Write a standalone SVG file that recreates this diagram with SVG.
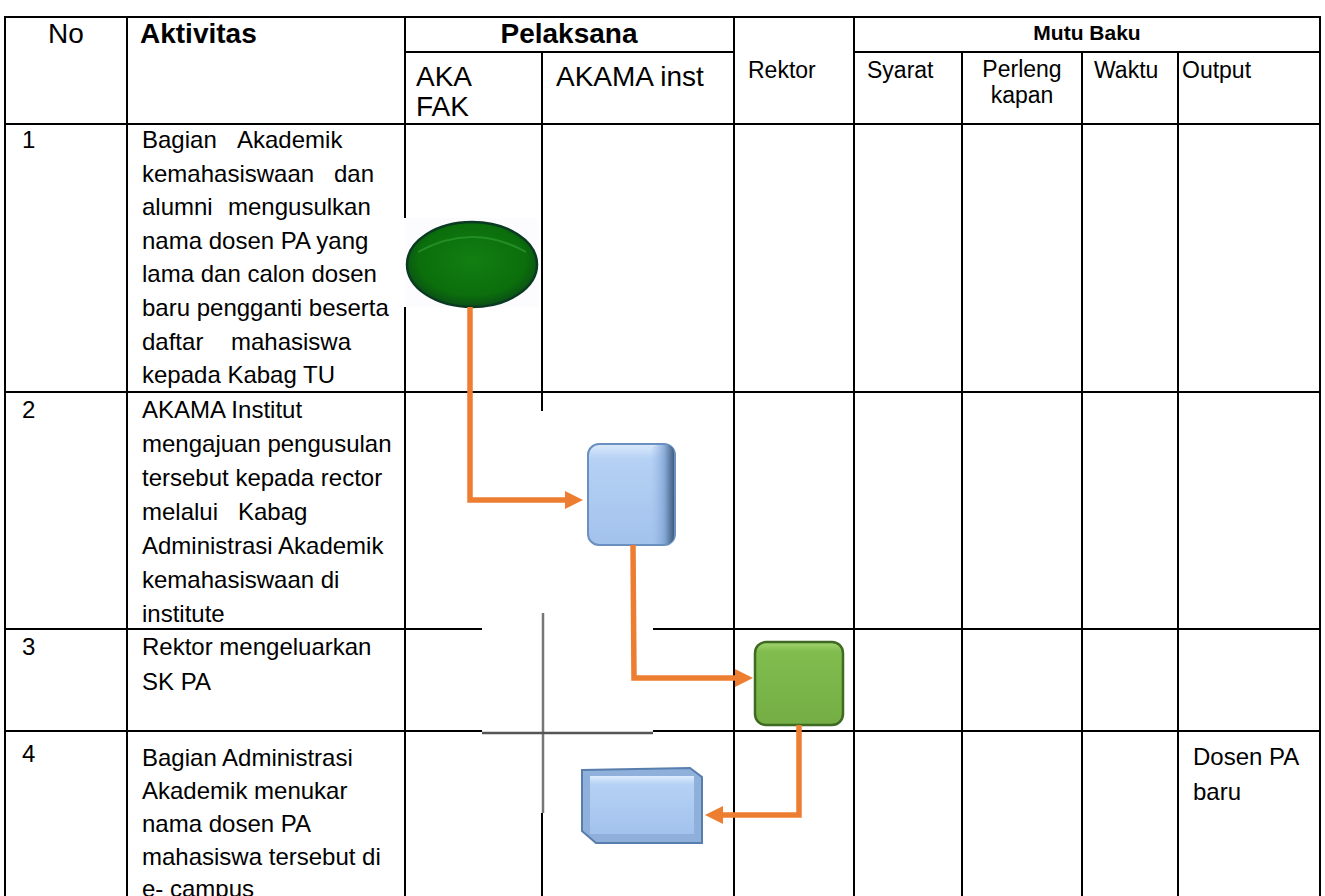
<svg xmlns="http://www.w3.org/2000/svg" width="1325" height="896" viewBox="0 0 1325 896">
<style>
.g{stroke:#000;stroke-width:2;fill:none}
.t{font-family:"Liberation Sans",Arial,sans-serif;font-size:24px;fill:#000}
.h{font-family:"Liberation Sans",Arial,sans-serif;font-size:28px;fill:#000}
.hb{font-family:"Liberation Sans",Arial,sans-serif;font-size:28px;font-weight:bold;fill:#000}
.s{font-family:"Liberation Sans",Arial,sans-serif;font-size:23px;fill:#000}
.c{stroke:#ED7D31;stroke-width:5.5;fill:none;stroke-linejoin:miter}
</style>
<defs>
<marker id="ah" markerUnits="userSpaceOnUse" markerWidth="18" markerHeight="18" refX="0" refY="9" orient="auto">
<path d="M0,0 L18,9 L0,18 z" fill="#ED7D31"/>
</marker>
<radialGradient id="eg" cx="0.5" cy="0.45" r="0.55">
<stop offset="0" stop-color="#127F12"/>
<stop offset="0.75" stop-color="#0B6F0B"/>
<stop offset="1" stop-color="#0A4F16"/>
</radialGradient>
<linearGradient id="bg" x1="0" y1="0" x2="0" y2="1">
<stop offset="0" stop-color="#DCEAFB"/>
<stop offset="0.15" stop-color="#B5D1F4"/>
<stop offset="1" stop-color="#A3C2EC"/>
</linearGradient>
<linearGradient id="br" x1="0" y1="0" x2="1" y2="0">
<stop offset="0" stop-color="#9FBFEA" stop-opacity="0"/>
<stop offset="0.6" stop-color="#7FA3D2"/>
<stop offset="1" stop-color="#2E4A6B"/>
</linearGradient>
<linearGradient id="gg" x1="0" y1="0" x2="0" y2="1">
<stop offset="0" stop-color="#A2D56F"/>
<stop offset="0.12" stop-color="#80BC4E"/>
<stop offset="1" stop-color="#74AE44"/>
</linearGradient>
</defs>

<g id="grid">
<line class="g" x1="5" y1="17" x2="1320" y2="17"/>
<line class="g" x1="405" y1="52" x2="734" y2="52"/>
<line class="g" x1="854" y1="52" x2="1320" y2="52"/>
<line class="g" x1="5" y1="124" x2="1320" y2="124"/>
<line class="g" x1="5" y1="392" x2="1320" y2="392"/>
<line class="g" x1="5" y1="629" x2="482" y2="629"/>
<line class="g" x1="653" y1="629" x2="1320" y2="629"/>
<line class="g" x1="5" y1="731" x2="482" y2="731"/>
<line class="g" x1="653" y1="731" x2="1320" y2="731"/>
<line class="g" x1="5" y1="16" x2="5" y2="896"/>
<line class="g" x1="127" y1="16" x2="127" y2="896"/>
<line class="g" x1="405" y1="16" x2="405" y2="218"/>
<line class="g" x1="405" y1="307" x2="405" y2="896"/>
<line class="g" x1="542" y1="52" x2="542" y2="411"/>
<line class="g" x1="542" y1="813" x2="542" y2="896"/>
<line class="g" x1="734" y1="16" x2="734" y2="896"/>
<line class="g" x1="854" y1="16" x2="854" y2="896"/>
<line class="g" x1="962" y1="52" x2="962" y2="896"/>
<line class="g" x1="1082" y1="52" x2="1082" y2="896"/>
<line class="g" x1="1178" y1="52" x2="1178" y2="896"/>
<line class="g" x1="1320" y1="16" x2="1320" y2="896"/>
<line x1="543" y1="613" x2="543" y2="813" stroke="#777" stroke-width="2.5"/>
<line x1="482" y1="733" x2="653" y2="733" stroke="#555" stroke-width="2.5"/>
</g>

<g id="header">
<text class="h" x="66" y="43" text-anchor="middle">No</text>
<text class="hb" x="140" y="43">Aktivitas</text>
<text class="hb" x="569" y="43" text-anchor="middle">Pelaksana</text>
<text x="1087" y="40" text-anchor="middle" style="font-family:'Liberation Sans',Arial,sans-serif;font-size:21px;font-weight:bold">Mutu Baku</text>
<text class="h" x="416" y="86">AKA</text>
<text class="h" x="416" y="116">FAK</text>
<text class="h" x="556" y="86">AKAMA inst</text>
<text class="s" x="748" y="78">Rektor</text>
<text class="s" x="867" y="78">Syarat</text>
<text class="s" x="1022" y="77" text-anchor="middle">Perleng</text>
<text class="s" x="1022" y="103" text-anchor="middle">kapan</text>
<text class="s" x="1094" y="78">Waktu</text>
<text class="s" x="1182" y="78">Output</text>
</g>

<g id="row1">
<text class="t" x="22" y="148">1</text>
<text class="t" y="148"><tspan x="142">Bagian</tspan><tspan x="237">Akademik</tspan></text>
<text class="t" y="181.5"><tspan x="142">kemahasiswaan</tspan><tspan x="334">dan</tspan></text>
<text class="t" y="215"><tspan x="142">alumni</tspan><tspan x="228">mengusulkan</tspan></text>
<text class="t" x="142" y="249">nama dosen PA yang</text>
<text class="t" x="142" y="282">lama dan calon dosen</text>
<text class="t" x="142" y="316">baru pengganti beserta</text>
<text class="t" y="350"><tspan x="142">daftar</tspan><tspan x="231">mahasiswa</tspan></text>
<text class="t" x="142" y="383">kepada Kabag TU</text>
</g>

<g id="row2">
<text class="t" x="22" y="418">2</text>
<text class="t" x="142" y="418">AKAMA Institut</text>
<text class="t" x="142" y="452">mengajuan pengusulan</text>
<text class="t" x="142" y="486">tersebut kepada rector</text>
<text class="t" y="520"><tspan x="142">melalui</tspan><tspan x="238">Kabag</tspan></text>
<text class="t" x="142" y="554">Administrasi Akademik</text>
<text class="t" x="142" y="588">kemahasiswaan di</text>
<text class="t" x="142" y="622">institute</text>
</g>

<g id="row3">
<text class="t" x="22" y="655">3</text>
<text class="t" x="142" y="655">Rektor mengeluarkan</text>
<text class="t" x="142" y="690">SK PA</text>
</g>

<g id="row4">
<text class="t" x="22" y="762">4</text>
<text class="t" x="142" y="766">Bagian Administrasi</text>
<text class="t" x="142" y="799">Akademik menukar</text>
<text class="t" x="142" y="832">nama dosen PA</text>
<text class="t" x="142" y="865">mahasiswa tersebut di</text>
<text class="t" x="142" y="897">e- campus</text>
<text class="t" x="1193" y="765">Dosen PA</text>
<text class="t" x="1193" y="800">baru</text>
</g>

<g id="node-start">
<rect x="406" y="218" width="132" height="89" fill="#FCFBFD"/>
<ellipse cx="472" cy="264.5" rx="65" ry="42.5" fill="url(#eg)" stroke="#0A3A22" stroke-width="2.5"/>
<path d="M418,252 Q472,222 526,252" fill="none" stroke="#2E9A2E" stroke-width="2" opacity="0.7"/>
</g>

<g id="node-akama">
<rect x="588" y="444" width="87" height="101" rx="11" fill="url(#bg)" stroke="#6A90C2" stroke-width="2"/>
<rect x="650" y="445" width="24" height="99" rx="8" fill="url(#br)" opacity="0.85"/>
</g>

<g id="node-rektor">
<rect x="755" y="642" width="88" height="83" rx="11" fill="url(#gg)" stroke="#3E6A22" stroke-width="2.5"/>
</g>

<g id="node-admin">
<polygon points="582,770 690,768 702,777 702,843 596,843 582,831" fill="#8FB0DA" stroke="#587EAE" stroke-width="2"/>
<polygon points="590,776 694,776 694,834 590,834" fill="url(#bg)"/>
</g>

<g id="connectors">
<polyline class="c" points="470,307 470,500 565,500" marker-end="url(#ah)"/>
<polyline class="c" points="633,545 634,678 735,678" marker-end="url(#ah)"/>
<polyline class="c" points="799,725 799,815 723,815" marker-end="url(#ah)"/>
</g>
</svg>
